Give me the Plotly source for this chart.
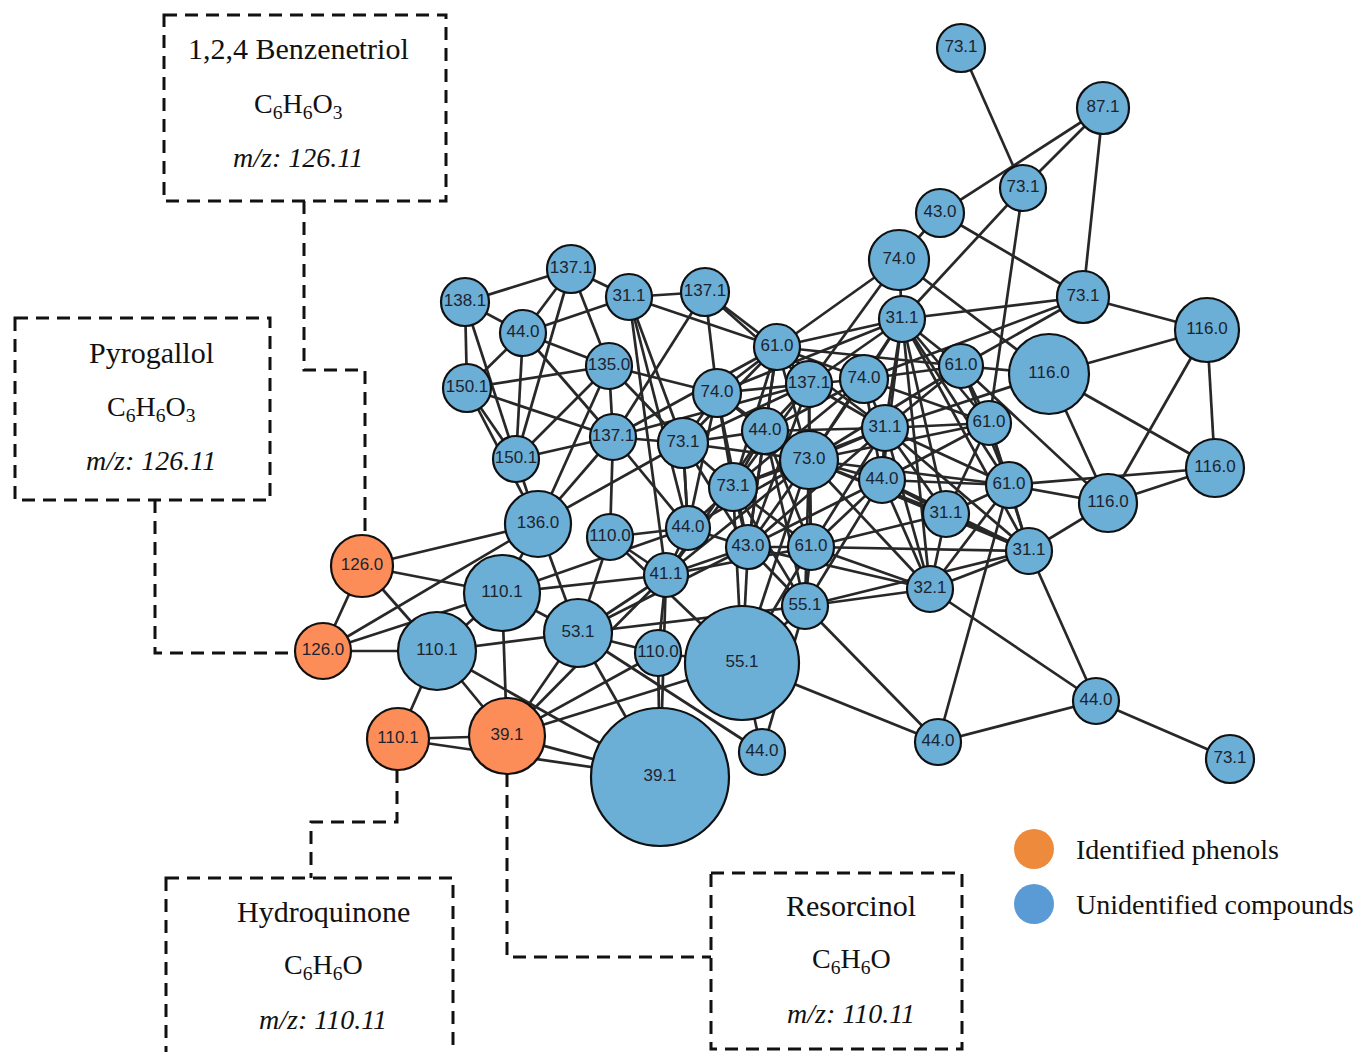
import plotly.graph_objects as go

# ---- network nodes: m/z label, layout position (px), radius (px), group ----
NODE_LABEL = [
    "73.1", "87.1", "73.1", "43.0", "74.0", "73.1", "116.0", "31.1", "61.0", "116.0",
    "61.0", "116.0", "61.0", "116.0", "31.1", "31.1", "32.1", "44.0", "44.0", "73.1",
    "137.1", "31.1", "137.1", "138.1", "44.0", "135.0", "150.1", "61.0", "74.0", "137.1",
    "74.0", "137.1", "73.1", "44.0", "31.1", "73.0", "150.1", "73.1", "44.0", "136.0",
    "110.0", "44.0", "43.0", "61.0", "41.1", "110.1", "55.1", "53.1", "110.1", "110.0",
    "55.1", "44.0", "39.1", "126.0", "126.0", "110.1", "39.1",
]
NODE_X = [
    961, 1103, 1023, 940, 899, 1083, 1207, 902, 961, 1049,
    989, 1215, 1009, 1108, 946, 1029, 930, 1096, 938, 1230,
    571, 629, 705, 465, 523, 609, 467, 777, 717, 809,
    864, 613, 683, 765, 885, 809, 516, 733, 882, 538,
    610, 688, 748, 811, 666, 502, 805, 578, 437, 658,
    742, 762, 660, 362, 323, 398, 507,
]
NODE_Y = [
    48, 108, 188, 213, 260, 297, 330, 319, 366, 374,
    423, 468, 485, 503, 514, 551, 589, 701, 742, 759,
    269, 297, 292, 302, 333, 366, 388, 347, 393, 384,
    379, 437, 443, 431, 428, 460, 459, 487, 480, 524,
    537, 528, 547, 547, 575, 593, 606, 633, 651, 653,
    663, 752, 777, 566, 651, 739, 736,
]
NODE_R = [
    24, 26, 23, 24, 30, 26, 32, 23, 22, 40,
    22, 29, 23, 29, 23, 23, 23, 23, 23, 24,
    24, 23, 24, 24, 23, 23, 24, 23, 24, 23,
    24, 23, 25, 23, 23, 29, 23, 24, 23, 33,
    23, 22, 22, 23, 22, 38, 23, 34, 39, 23,
    57, 23, 69, 31, 28, 31, 38,
]
NODE_GROUP = ["U"] * 53 + ["P"] * 4  # U = unidentified, P = identified phenol

# ---- correlation edges (node index pairs) ----
EDGES = [
    # outer right region
    (0, 2), (1, 2), (1, 3), (1, 5), (3, 4), (3, 5), (2, 7), (2, 10), (4, 9), (4, 27),
    (4, 29), (4, 7), (7, 5), (7, 27), (5, 6), (5, 8), (5, 30), (6, 9), (6, 11), (6, 13),
    (9, 11), (9, 13), (11, 13), (11, 12), (12, 13), (15, 13), (8, 13), (8, 9), (9, 34),
    (15, 17), (16, 17), (16, 15), (18, 17), (17, 19), (18, 12), (46, 18), (50, 18),
    (46, 16), (46, 15), (43, 16), (43, 15),
    # upper left group
    (20, 23), (20, 21), (20, 24), (20, 25), (20, 36), (21, 22), (23, 24), (23, 26),
    (23, 36), (24, 25), (24, 21), (24, 26), (24, 36), (24, 31), (26, 25), (26, 36),
    (26, 31), (26, 39), (36, 31), (36, 25), (36, 39), (25, 31), (25, 28), (25, 32),
    (25, 39), (22, 28), (22, 31), (22, 27), (22, 29), (21, 27), (21, 32), (21, 41),
    (21, 44), (31, 32), (31, 40), (31, 39), (31, 27), (31, 29), (31, 41),
    # 136.0 and lower left
    (39, 45), (39, 47), (39, 32), (39, 53), (39, 54),
    (53, 54), (53, 45), (53, 48), (54, 48), (54, 45), (45, 47), (45, 48), (48, 47),
    (45, 56), (48, 55), (48, 56), (48, 52), (55, 56), (55, 52), (56, 52), (56, 47),
    (56, 50), (56, 49), (56, 44), (47, 52), (47, 51), (47, 49), (47, 44), (47, 42),
    (47, 46), (49, 52), (49, 44), (49, 50), (50, 51), (46, 51), (52, 44), (45, 41),
    (45, 44),
    # centre left
    (40, 44), (40, 50), (40, 41), (40, 47), (41, 42), (41, 44), (41, 32), (41, 37),
    (41, 35), (42, 44), (43, 44), (42, 43), (42, 46), (42, 50), (43, 46), (43, 50),
    (46, 50), (44, 37), (44, 33), (32, 28), (32, 33), (32, 37), (32, 35), (32, 42),
    (32, 41), (32, 27), (32, 29),
    # dense core
    (34, 27), (34, 29), (34, 30), (34, 33), (34, 35), (34, 38), (34, 14), (34, 12),
    (34, 10), (34, 8), (34, 7), (34, 42), (34, 43), (34, 37), (34, 15), (34, 16),
    (7, 29), (7, 30), (7, 8), (7, 10), (7, 12), (7, 14), (7, 38), (7, 35), (7, 15),
    (7, 16), (7, 28),
    (35, 29), (35, 30), (35, 33), (35, 38), (35, 37), (35, 43), (35, 42), (35, 46),
    (35, 27), (35, 8), (35, 10), (35, 14), (35, 12), (35, 28), (35, 44), (35, 50),
    (38, 14), (38, 12), (38, 10), (38, 43), (38, 42), (38, 46), (38, 16),
    (12, 15), (12, 14), (12, 10), (12, 8), (12, 16),
    (10, 14), (10, 15), (10, 8),
    (14, 16), (14, 15), (14, 43),
    (29, 27), (29, 30), (29, 33), (29, 28), (29, 37), (29, 42), (29, 43),
    (27, 28), (27, 33), (27, 37), (27, 42), (27, 30), (27, 8),
    (28, 33), (28, 37), (28, 41), (28, 42),
    (33, 37), (33, 42), (33, 43), (33, 46),
    (37, 42), (37, 43), (37, 46), (37, 50),
    (30, 8), (30, 38), (30, 10), (30, 37), (30, 33),
    (16, 42), (16, 35), (15, 35), (15, 38),
]

# ---- callout boxes for the identified phenols ----
BOX_NAME = ["1,2,4 Benzenetriol", "Pyrogallol", "Hydroquinone", "Resorcinol"]
BOX_FORMULA = [
    "C<sub>6</sub>H<sub>6</sub>O<sub>3</sub>",
    "C<sub>6</sub>H<sub>6</sub>O<sub>3</sub>",
    "C<sub>6</sub>H<sub>6</sub>O",
    "C<sub>6</sub>H<sub>6</sub>O",
]
BOX_MZ = ["m/z: 126.11", "m/z: 126.11", "m/z: 110.11", "m/z: 110.11"]

LEGEND_LABELS = ["Identified phenols", "Unidentified compounds"]

BLUE = "#6baed6"
ORANGE = "#fc8d59"
LEG_ORANGE = "#ee8a3c"
LEG_BLUE = "#5b9bd5"
W, H = 1353, 1052

fig = go.Figure()

# edges
ex, ey = [], []
for a, b in EDGES:
    ex += [NODE_X[a], NODE_X[b], None]
    ey += [NODE_Y[a], NODE_Y[b], None]
fig.add_trace(go.Scatter(
    x=ex, y=ey, mode="lines",
    line=dict(color="#282828", width=2.7),
    hoverinfo="skip", showlegend=False,
))

# nodes
fig.add_trace(go.Scatter(
    x=NODE_X, y=NODE_Y, mode="markers+text",
    text=NODE_LABEL, textposition="middle center",
    textfont=dict(family="Liberation Sans, Arial", size=17, color="#1c2430"),
    marker=dict(
        size=[2 * r for r in NODE_R],
        color=[ORANGE if g == "P" else BLUE for g in NODE_GROUP],
        line=dict(color="#111111", width=2.2),
        opacity=1,
    ),
    hoverinfo="text", showlegend=False,
))

# legend swatches
fig.add_trace(go.Scatter(
    x=[1034, 1034], y=[849, 904], mode="markers",
    marker=dict(size=40, color=[LEG_ORANGE, LEG_BLUE], line=dict(width=0)),
    hoverinfo="skip", showlegend=False,
))

SERIF = "Liberation Serif, Times New Roman, serif"
annotations = []
for lab, yy in zip(LEGEND_LABELS, [849, 904]):
    annotations.append(dict(
        x=1074, y=yy, xref="x", yref="y", text=lab, showarrow=False,
        xanchor="left", yanchor="middle",
        font=dict(family=SERIF, size=28, color="#111111"),
    ))

# box geometry: x0, y0, x1, y1, text centre x, text line y's
BOX_GEOM = [
    (164, 15, 446, 201, 298, (48, 105, 157)),
    (15, 318, 270, 500, 151, (352, 408, 460)),
    (166, 878, 453, 1070, 323, (911, 966, 1019)),
    (711, 873, 962, 1049, 851, (905, 960, 1013)),
]
LINE_SIZES = (30, 28, 28)
DASH = "13px,8px"
shapes = []
for i, (x0, y0, x1, y1, cx, ys) in enumerate(BOX_GEOM):
    shapes.append(dict(
        type="rect", xref="x", yref="y", x0=x0, y0=y0, x1=x1, y1=y1,
        line=dict(color="#111111", width=3, dash=DASH), layer="below",
    ))
    for txt, yy, ital, fs in zip([BOX_NAME[i], BOX_FORMULA[i], BOX_MZ[i]], ys,
                                 [False, False, True], LINE_SIZES):
        annotations.append(dict(
            x=cx, y=yy, xref="x", yref="y",
            text=f"<i>{txt}</i>" if ital else txt, showarrow=False,
            xanchor="center", yanchor="middle",
            font=dict(family=SERIF, size=fs, color="#111111"),
        ))

# dashed connectors from boxes to the phenol nodes
CONNECTORS = [
    "M 304 201 L 304 370 L 365 370 L 365 535",
    "M 155 500 L 155 653 L 295 653",
    "M 397 770 L 397 822 L 311 822 L 311 878",
    "M 507 774 L 507 957 L 711 957",
]
for p in CONNECTORS:
    shapes.append(dict(
        type="path", xref="x", yref="y", path=p,
        line=dict(color="#111111", width=3, dash=DASH), layer="below",
    ))

fig.update_layout(
    width=W, height=H, autosize=False,
    margin=dict(l=0, r=0, t=0, b=0),
    paper_bgcolor="white", plot_bgcolor="white",
    xaxis=dict(range=[0, W], visible=False, fixedrange=True),
    yaxis=dict(range=[H, 0], visible=False, fixedrange=True),
    shapes=shapes, annotations=annotations,
    showlegend=False,
)

fig.write_html("out.html")
